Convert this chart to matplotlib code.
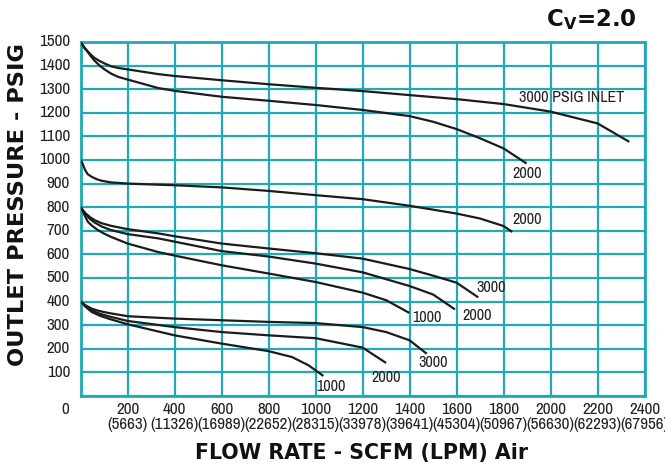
import matplotlib
matplotlib.use("Agg")
import matplotlib.pyplot as plt
from matplotlib import font_manager as fm
from matplotlib.transforms import blended_transform_factory

# flow (scfm) and outlet pressure (psig), one pair per curve
x_1500_3000 = [0, 8, 15, 30, 45, 60, 80, 100, 130, 160, 200, 330, 400, 600, 800, 1000, 1200, 1400, 1600, 1800, 2000, 2200, 2335]
y_1500_3000 = [1500, 1489, 1478, 1461, 1445, 1432, 1420, 1410, 1397, 1390, 1384, 1364, 1356, 1338, 1321, 1306, 1292, 1275, 1258, 1237, 1205, 1155, 1077]
x_1500_2000 = [0, 8, 15, 30, 45, 60, 80, 100, 130, 160, 200, 330, 400, 600, 800, 1000, 1200, 1400, 1500, 1600, 1700, 1800, 1898]
y_1500_2000 = [1500, 1488, 1476, 1458, 1438, 1420, 1401, 1385, 1366, 1352, 1341, 1305, 1293, 1268, 1251, 1233, 1212, 1186, 1162, 1131, 1092, 1049, 985]

x_1000_2000 = [0, 5, 10, 19, 30, 47, 70, 90, 130, 200, 400, 600, 800, 1000, 1200, 1400, 1600, 1700, 1800, 1837]
y_1000_2000 = [1000, 992, 980, 958, 940, 929, 918, 912, 905, 900, 893, 884, 869, 851, 834, 806, 773, 752, 720, 695]

x_800_3000 = [0, 10, 20, 40, 60, 90, 130, 200, 330, 400, 600, 800, 1000, 1200, 1400, 1500, 1600, 1692]
y_800_3000 = [800, 787, 775, 758, 745, 732, 721, 707, 689, 677, 646, 625, 605, 582, 538, 510, 480, 418]
x_800_2000 = [0, 10, 20, 40, 60, 90, 130, 200, 330, 400, 600, 800, 1000, 1200, 1400, 1500, 1593]
y_800_2000 = [800, 786, 772, 750, 735, 718, 703, 686, 668, 654, 614, 591, 561, 524, 466, 430, 367]
x_800_1000 = [0, 8, 15, 31, 50, 74, 100, 130, 200, 330, 400, 600, 800, 1000, 1200, 1300, 1399]
y_800_1000 = [800, 785, 770, 738, 720, 703, 688, 674, 646, 610, 595, 554, 519, 483, 438, 406, 352]

x_400_3000 = [0, 10, 20, 47, 80, 118, 200, 400, 600, 800, 1000, 1200, 1300, 1400, 1473]
y_400_3000 = [400, 392, 385, 370, 360, 352, 338, 328, 321, 314, 309, 292, 271, 236, 179]
x_400_2000 = [0, 10, 20, 47, 80, 118, 200, 400, 600, 800, 1000, 1200, 1300]
y_400_2000 = [400, 391, 382, 363, 349, 338, 318, 292, 271, 257, 245, 205, 140]
x_400_1000 = [0, 10, 20, 47, 80, 118, 200, 400, 600, 800, 900, 970, 1033]
y_400_1000 = [400, 390, 379, 356, 341, 328, 304, 257, 222, 190, 165, 130, 85]

curves = [
    (x_1500_3000, y_1500_3000), (x_1500_2000, y_1500_2000),
    (x_1000_2000, y_1000_2000),
    (x_800_3000, y_800_3000), (x_800_2000, y_800_2000), (x_800_1000, y_800_1000),
    (x_400_3000, y_400_3000), (x_400_2000, y_400_2000), (x_400_1000, y_400_1000),
]

# curve labels: text, x, y
label_text = ["3000 PSIG INLET", "2000", "2000", "3000", "2000", "1000", "3000", "2000", "1000"]
label_x = [2091, 1899, 1899, 1746, 1687, 1474, 1500, 1300, 1065]
label_y = [1263, 944, 749, 461, 342, 334, 142, 79, 41]

scfm_ticks = [200, 400, 600, 800, 1000, 1200, 1400, 1600, 1800, 2000, 2200, 2400]
lpm_ticks = [5663, 11326, 16989, 22652, 28315, 33978, 39641, 45304, 50967, 56630, 62293, 67956]
psig_ticks = [100, 200, 300, 400, 500, 600, 700, 800, 900, 1000, 1100, 1200, 1300, 1400, 1500]

grid_col = "#22a9b6"
line_col = "#1c1c1c"

# pick a narrow face if there is one, else shrink the text
fonts = fm.fontManager.ttflist
narrow_names = [f.name for f in fonts if "Narrow" in f.name or "Condensed" in f.name]
cond = [f for f in fonts if f.name == "DejaVu Sans" and f.stretch == "condensed"]
if narrow_names:
    fam = dict(family=[narrow_names[0], "DejaVu Sans"])
    tick_size, lab_size = 12.3, 11.6
elif cond:
    fam = dict(family="DejaVu Sans", fontstretch="condensed")
    tick_size, lab_size = 12, 11.3
else:
    fam = dict(family="DejaVu Sans")
    tick_size, lab_size = 8.8, 9.5

fig = plt.figure(figsize=(6.65, 4.72), dpi=100)
ax = fig.add_axes([80.6 / 665, 1 - 396 / 472, 564 / 665, 354 / 472])

for xs, ys in curves:
    ax.plot(xs, ys, color=line_col, lw=1.6, solid_joinstyle="round",
            solid_capstyle="butt", zorder=3)

for t, lx, ly in zip(label_text, label_x, label_y):
    ax.text(lx, ly, t, ha="center", va="center", color="#222222", zorder=4,
            fontsize=lab_size, **fam)

ax.set_xlim(0, 2400)
ax.set_ylim(0, 1500)
ax.set_xticks(range(0, 2401, 200))
ax.set_yticks(range(0, 1501, 100))
ax.grid(True, color=grid_col, lw=1.6, zorder=1)
for s in ax.spines.values():
    s.set_color(grid_col)
    s.set_linewidth(2.0)
ax.tick_params(length=0, labelbottom=False, labelleft=False)

# y tick labels
for v in psig_ticks:
    ax.text(-45, v, str(v), ha="right", va="center", color="#222222",
            fontsize=tick_size, **fam)

# x tick labels on two rows, scfm over lpm
trans = blended_transform_factory(ax.transData, fig.transFigure)
for v, l in zip(scfm_ticks, lpm_ticks):
    ax.text(v, 1 - 410 / 472, str(v), transform=trans, ha="center", va="center",
            color="#222222", fontsize=tick_size, **fam)
    ax.text(v, 1 - 425 / 472, f"({l})", transform=trans, ha="center", va="center",
            color="#222222", fontsize=tick_size, **fam)
ax.text(-66, 1 - 410 / 472, "0", transform=trans, ha="center", va="center",
        color="#222222", fontsize=tick_size, **fam)

fig.text(362 / 665, 1 - 453 / 472, "FLOW RATE - SCFM (LPM) Air", ha="center", va="center",
         fontsize=14.8, fontweight="bold", color="#111111")
fig.text(18 / 665, 1 - 205 / 472, "OUTLET PRESSURE - PSIG", ha="center", va="center",
         rotation=90, fontsize=16.2, fontweight="bold", color="#111111")
fig.text(591 / 665, 1 - 20 / 472, r"C$_\mathbf{V}$=2.0", ha="center", va="center",
         fontsize=16.5, fontweight="bold", color="#111111")

fig.savefig("out.png", dpi=100)
